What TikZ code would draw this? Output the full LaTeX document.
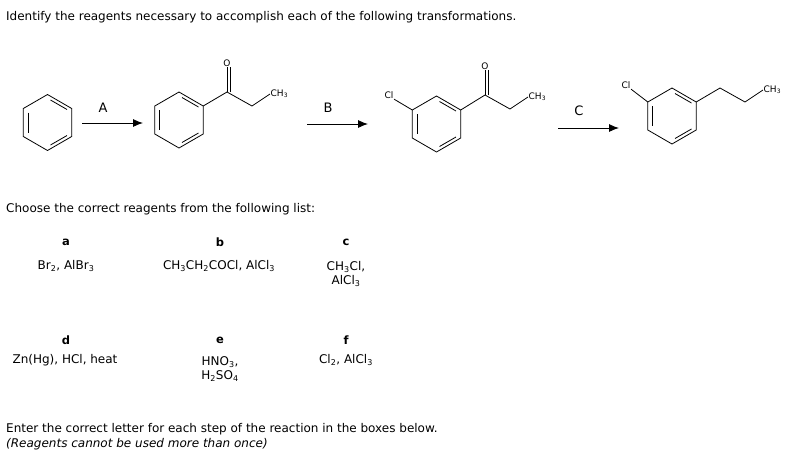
\documentclass[tikz,border=0pt]{standalone}
\usepackage{fontspec}
\setmainfont{DejaVu Sans}
\usetikzlibrary{calc,arrows.meta}
\newcommand{\sub}[1]{\textsubscript{#1}}
\begin{document}
\begin{tikzpicture}[x=1pt,y=-1pt,
  bond/.style={line width=0.8pt},
  arr/.style={line width=0.9pt,-{Latex[length=10pt,width=8pt]}},
  atom/.style={font=\fontsize{9}{10}\selectfont,inner sep=0.5pt},
  txt/.style={font=\fontsize{12}{14}\selectfont,inner sep=0pt},
  lab/.style={font=\fontsize{11.5}{13}\selectfont\bfseries,inner sep=0pt}]
\useasboundingbox (0,0) rectangle (798,456);
\newcommand{\hexring}[2]{%
 \begin{scope}[shift={(#1,#2)}]
  \draw[bond] (0,-28)--(24.2,-14)--(24.2,14)--(0,28)--(-24.2,14)--(-24.2,-14)--cycle;
  \draw[bond] (-19.5,-10)--(-19.5,10);
  \draw[bond] (3,-22.5)--(19.5,-13);
  \draw[bond] (3,22.5)--(19.5,13);
 \end{scope}}
\node[txt,anchor=west] (title) at (6,17) {Identify the reagents necessary to accomplish each of the following transformations.};
% ring 1
\hexring{47.5}{122.5}
% ring 2
\hexring{179}{120}
\coordinate (c2) at (227,92);
\node[atom] (o2) at (227,63) {O};
\draw[bond] (203.2,106)--(c2)--(252,106);
\draw[bond] (c2)--(o2);\draw[bond] ([xshift=3pt]c2)--([xshift=3pt]o2.south);
\node[atom,anchor=west] (m2) at (270,94) {CH\sub{3}};
\draw[bond] (252,106)--(m2.west);
% ring 3
\hexring{436.5}{124}
\node[atom] (cl3) at (389,95) {Cl};
\draw[bond] (412.3,110)--(cl3.south east);
\coordinate (c3) at (485,95);
\node[atom] (o3) at (485,66) {O};
\draw[bond] (460.7,110)--(c3)--(510,109);
\draw[bond] (c3)--(o3);\draw[bond] ([xshift=3pt]c3)--([xshift=3pt]o3.south);
\node[atom,anchor=west] (m3) at (528,97) {CH\sub{3}};
\draw[bond] (510,109)--(m3.west);
% ring 4
\hexring{672}{116}
\node[atom] (cl4) at (626,85) {Cl};
\draw[bond] (647.8,102)--(cl4.south east);
\draw[bond] (696.2,102)--(720,88)--(745,102);
\node[atom,anchor=west] (m4) at (763,90) {CH\sub{3}};
\draw[bond] (745,102)--(m4.west);
% arrows
\coordinate (a1) at (82,123);\coordinate (a2) at (143,123);
\draw[arr] (a1)--(a2);
\node[txt,font=\fontsize{13}{15}\selectfont] (A) at (103,108) {A};
\coordinate (b1) at (307,124);\coordinate (b2) at (368,124);
\draw[arr] (b1)--(b2);
\node[txt,font=\fontsize{13}{15}\selectfont] (B) at (328,108) {B};
\coordinate (e1) at (558,128);\coordinate (e2) at (619,128);
\draw[arr] (e1)--(e2);
\node[txt,font=\fontsize{13}{15}\selectfont] (C) at (579,111) {C};
% list
\node[txt,anchor=west] (choose) at (6,209) {Choose the correct reagents from the following list:};
\node[lab] (la) at (66,242) {a};
\node[lab] (lb) at (220,242) {b};
\node[lab] (lc) at (346,242) {c};
\node[txt] (ta) at (66,266) {Br\sub{2}, AlBr\sub{3}};
\node[txt] (tb) at (219,266) {CH\sub{3}CH\sub{2}COCl, AlCl\sub{3}};
\node[txt,align=center] (tc) at (346,274) {CH\sub{3}Cl,\\AlCl\sub{3}};
\node[lab] (ld) at (66,340) {d};
\node[lab] (le) at (220,340) {e};
\node[lab] (lf) at (346,340) {f};
\node[txt] (td) at (65,360) {Zn(Hg), HCl, heat};
\node[txt,align=center] (te) at (220,369) {HNO\sub{3},\\H\sub{2}SO\sub{4}};
\node[txt] (tf) at (346,360) {Cl\sub{2}, AlCl\sub{3}};
\node[txt,anchor=west] (enter) at (6,429) {Enter the correct letter for each step of the reaction in the boxes below.};
\node[txt,anchor=west,font=\fontsize{12}{14}\selectfont\itshape] (note) at (6,444) {(Reagents cannot be used more than once)};
\end{tikzpicture}
\end{document}
